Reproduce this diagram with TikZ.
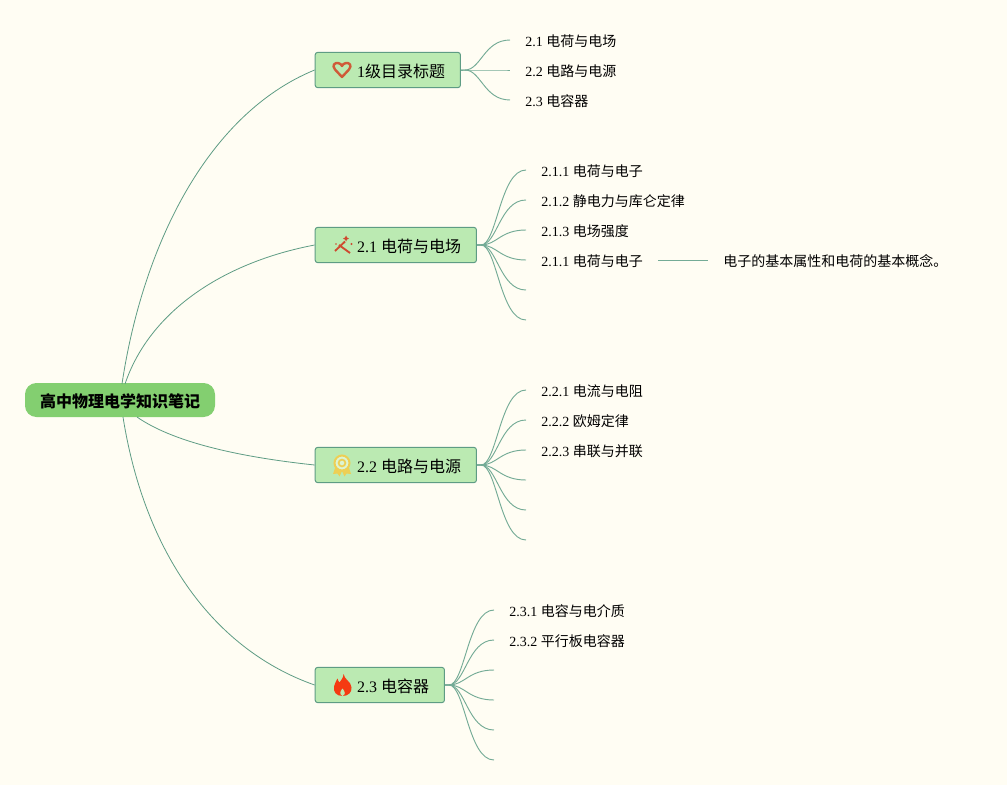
\documentclass[tikz,border=0pt]{standalone}
\usepackage{fontspec}
\setmainfont{Liberation Serif}
\newfontfamily\cjk{Noto Sans CJK SC}
\newcommand{\C}[1]{{\cjk #1}}
\definecolor{bgc}{HTML}{FFFDF3}
\definecolor{rootc}{HTML}{83CF70}
\definecolor{boxc}{HTML}{BBEAB2}
\definecolor{edgec}{HTML}{5E9C84}
\definecolor{branchc}{HTML}{74AB96}
\definecolor{heartc}{HTML}{CF5A38}
\definecolor{wandc}{HTML}{CE4A30}
\definecolor{medalc}{HTML}{EDCF55}
\definecolor{flamec}{HTML}{F53A12}
\tikzset{
  x=0.75pt,y=-0.75pt,
  rootbox/.style={fill=rootc,rounded corners=8.5pt,inner sep=0pt,minimum height=25.5pt,font=\fontsize{12}{14}\selectfont\bfseries,text height=10.5pt,text depth=0pt},
  topicbox/.style={draw=edgec,fill=boxc,line width=0.75pt,rounded corners=2pt,inner sep=0pt,minimum height=26.5pt,font=\fontsize{12}{14}\selectfont,text height=10.5pt,text depth=0pt},
  leaf/.style={anchor=west,inner xsep=11.25pt,inner ysep=0pt,font=\fontsize{10.5}{12}\selectfont,text height=10pt,text depth=0pt},
  conn/.style={draw=edgec,line width=0.6pt},
  branch/.style={draw=branchc,line width=0.7pt}
}
\begin{document}
\begin{tikzpicture}
\useasboundingbox (0,0) rectangle (1007,785);
\fill[bgc] (0,0) rectangle (1007,785);
% main nodes
\node[rootbox,minimum width=142.5pt] (root) at (120,400) {\C{高中物理电学知识笔记}};
\node[topicbox,minimum width=109pt] (t1) at (387.8,70) {\makebox[109pt][l]{\hspace*{31.5pt}1\C{级目录标题}}};
\node[topicbox,minimum width=121pt] (t2) at (395.8,245) {\makebox[121pt][l]{\hspace*{31.5pt}2.1 \C{电荷与电场}}};
\node[topicbox,minimum width=121pt] (t3) at (395.8,465) {\makebox[121pt][l]{\hspace*{31.5pt}2.2 \C{电路与电源}}};
\node[topicbox,minimum width=97pt] (t4) at (379.8,685) {\makebox[97pt][l]{\hspace*{31.5pt}2.3 \C{电容器}}};
% root connectors
\coordinate (r1) at (122,384);
\coordinate (r2) at (125,384);
\coordinate (r3) at (137,417);
\coordinate (r4) at (123,417);
\draw[conn] (r1) .. controls (142,250) and (205,115) .. (t1.west);
\draw[conn] (r2) .. controls (150,310) and (225,262) .. (t2.west);
\draw[conn] (r3) .. controls (170,440) and (230,456) .. (t3.west);
\draw[conn] (r4) .. controls (145,555) and (215,650) .. (t4.west);
% leaves of t1
\node[leaf] (a1) at (510,40) {2.1 \C{电荷与电场}};
\node[leaf] (a2) at (510,70) {2.2 \C{电路与电源}};
\node[leaf] (a3) at (510,100) {2.3 \C{电容器}};
\foreach \n in {a1,a2,a3} \draw[branch] (t1.east) -- ++(4,0) .. controls +(16,0) and +(-26,0) .. (\n.west);
% leaves of t2
\node[leaf] (b1) at (526,170) {2.1.1 \C{电荷与电子}};
\node[leaf] (b2) at (526,200) {2.1.2 \C{静电力与库仑定律}};
\node[leaf] (b3) at (526,230) {2.1.3 \C{电场强度}};
\node[leaf] (b4) at (526,260) {2.1.1 \C{电荷与电子}};
\coordinate (b5) at (526,290);
\coordinate (b6) at (526,320);
\foreach \n in {b1,b2,b3,b4} \draw[branch] (t2.east) -- ++(4,0) .. controls +(16,0) and +(-26,0) .. (\n.west);
\foreach \n in {b5,b6} \draw[branch] (t2.east) -- ++(4,0) .. controls +(16,0) and +(-26,0) .. (\n);
\node[leaf] (b41) at (708,260) {\C{电子的基本属性和电荷的基本概念。}};
\draw[branch] (b4.east) -- (b41.west);
% leaves of t3
\node[leaf] (c1) at (526,390) {2.2.1 \C{电流与电阻}};
\node[leaf] (c2) at (526,420) {2.2.2 \C{欧姆定律}};
\node[leaf] (c3) at (526,450) {2.2.3 \C{串联与并联}};
\coordinate (c4) at (526,480);
\coordinate (c5) at (526,510);
\coordinate (c6) at (526,540);
\foreach \n in {c1,c2,c3} \draw[branch] (t3.east) -- ++(4,0) .. controls +(16,0) and +(-26,0) .. (\n.west);
\foreach \n in {c4,c5,c6} \draw[branch] (t3.east) -- ++(4,0) .. controls +(16,0) and +(-26,0) .. (\n);
% leaves of t4
\node[leaf] (d1) at (494,610) {2.3.1 \C{电容与电介质}};
\node[leaf] (d2) at (494,640) {2.3.2 \C{平行板电容器}};
\coordinate (d3) at (494,670);
\coordinate (d4) at (494,700);
\coordinate (d5) at (494,730);
\coordinate (d6) at (494,760);
\foreach \n in {d1,d2} \draw[branch] (t4.east) -- ++(4,0) .. controls +(16,0) and +(-26,0) .. (\n.west);
\foreach \n in {d3,d4,d5,d6} \draw[branch] (t4.east) -- ++(4,0) .. controls +(16,0) and +(-26,0) .. (\n);
% icon: heart
\draw[heartc,line width=1.8pt,line join=round] (342,77) -- (335,69.5) .. controls (331.5,65) and (335,62.5) .. (338,63) .. controls (340,63.3) and (341.5,64.5) .. (342,66) .. controls (342.5,64.5) and (344,63.3) .. (346,63) .. controls (349,62.5) and (352.5,65) .. (349,69.5) -- cycle;
% icon: wand
\draw[wandc,line width=1.4pt] (335,251) -- (345,241.5);
\draw[wandc,line width=1.4pt] (339,245) -- (350,253);
\fill[wandc] (346,235.5) -- (347,237.5) -- (349,238.5) -- (347,239.5) -- (346,241.5) -- (345,239.5) -- (343,238.5) -- (345,237.5) -- cycle;
\fill[wandc] (351.5,244) circle (1.1);
\fill[wandc] (336,244) circle (0.9);
% icon: medal
\fill[medalc] (336,465) -- (333,474) -- (337.5,473.5) -- (339.5,476.5) -- (342,471) -- (344.5,476.5) -- (346.5,473.5) -- (351,474) -- (348,465) -- cycle;
\fill[boxc!50!bgc] (342,463) circle (8);
\draw[medalc,line width=1.5pt] (342,463) circle (7.5);
\draw[medalc,line width=1.3pt] (342,463) circle (3.4);
% icon: flame
\fill[flamec] (343.5,674) .. controls (344.5,680) and (351,681) .. (351.5,687.5) .. controls (352,692.5) and (348,696) .. (342.5,696) .. controls (336.5,696) and (333,692) .. (334,686.5) .. controls (334.5,683) and (336.5,681) .. (337.5,678.5) .. controls (338,680.5) and (338.5,681.5) .. (339.5,682.5) .. controls (341,680) and (343.5,678) .. (343.5,674) -- cycle;
\fill[boxc] (342.5,696) .. controls (339.5,694.5) and (339.5,692) .. (342.5,688.5) .. controls (345.5,692) and (345.5,694.5) .. (342.5,696) -- cycle;
\end{tikzpicture}
\end{document}
